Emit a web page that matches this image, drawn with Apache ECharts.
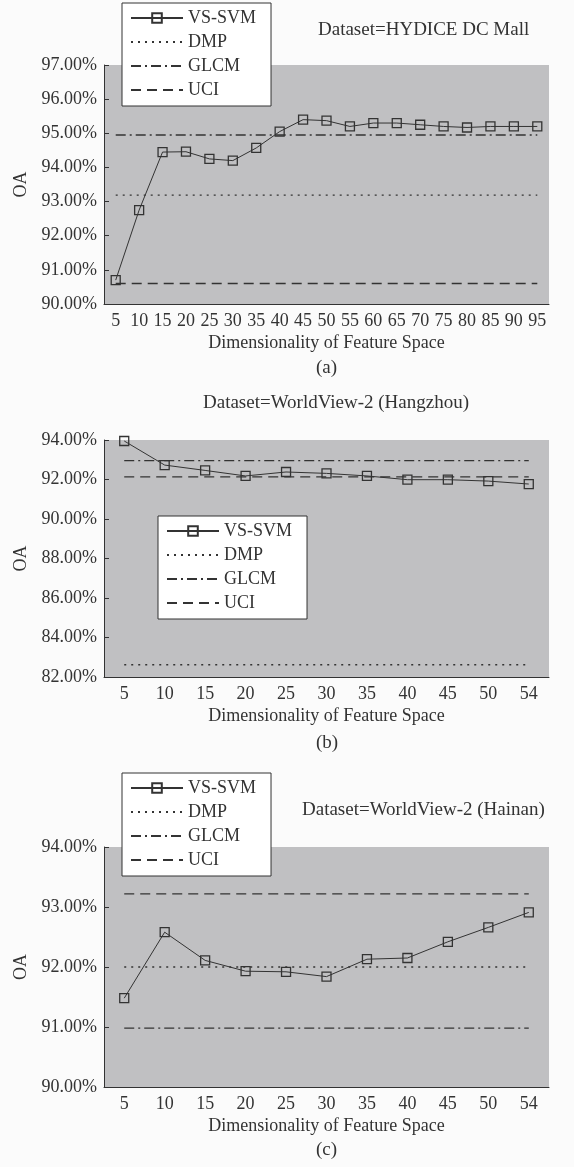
<!DOCTYPE html>
<html><head><meta charset="utf-8">
<script src="https://cdn.jsdelivr.net/npm/echarts@6/dist/echarts.min.js"></script>
<style>html,body{margin:0;padding:0;background:#fbfbfb;}#c{width:574px;height:1167px;}</style>
</head><body><div id="c"></div>
<script>
// ---- Data ----
const categoriesA = ['5','10','15','20','25','30','35','40','45','50','55','60','65','70','75','80','85','90','95'];
const vssvmA = [90.70, 92.75, 94.45, 94.46, 94.25, 94.20, 94.57, 95.05, 95.40, 95.37, 95.20, 95.30, 95.30, 95.25, 95.20, 95.17, 95.20, 95.20, 95.20];
const dmpA = 93.19, glcmA = 94.95, uciA = 90.60;

const categoriesB = ['5','10','15','20','25','30','35','40','45','50','54'];
const vssvmB = [93.95, 92.73, 92.46, 92.18, 92.38, 92.31, 92.18, 91.99, 91.99, 91.92, 91.77];
const dmpB = 82.62, glcmB = 92.96, uciB = 92.13;

const categoriesC = ['5','10','15','20','25','30','35','40','45','50','54'];
const vssvmC = [91.48, 92.58, 92.11, 91.93, 91.92, 91.84, 92.13, 92.15, 92.42, 92.66, 92.91];
const dmpC = 92.00, glcmC = 90.98, uciC = 93.22;

const titles = ['Dataset=HYDICE DC Mall', 'Dataset=WorldView-2 (Hangzhou)', 'Dataset=WorldView-2 (Hainan)'];
const captions = ['(a)', '(b)', '(c)'];
const legendNames = ['VS-SVM', 'DMP', 'GLCM', 'UCI'];
const xName = 'Dimensionality of Feature Space';
const yName = 'OA';

// ---- Styles ----
const FONT = '"Liberation Serif", "DejaVu Serif", serif';
const INK = '#333';
const FS = 18;
const grids = [
  {left:104, top:65, width:445, height:239},
  {left:104, top:440, width:445, height:237},
  {left:104, top:847, width:445, height:240}
];
const yRanges = [[90,97,1],[82,94,2],[90,94,1]];
const cats = [categoriesA, categoriesB, categoriesC];
const vs = [vssvmA, vssvmB, vssvmC];
const refs = [[dmpA, glcmA, uciA],[dmpB, glcmB, uciB],[dmpC, glcmC, uciC]];
const dashes = [[2,5], [10,4,2,4], [10,6]];
const legendPos = [{left:122, top:3},{left:158, top:516},{left:122, top:773}];

const option = {
  animation:false,
  backgroundColor:'#fbfbfb',
  textStyle:{fontFamily:FONT, color:INK},
  grid: grids.map(g => Object.assign({show:true, backgroundColor:'#c0c0c2', borderWidth:0}, g)),
  xAxis: grids.map((g,i) => ({
    type:'category', gridIndex:i, data:cats[i], boundaryGap:true,
    name:xName, nameLocation:'middle', nameGap:30,
    nameTextStyle:{fontFamily:FONT, fontSize:FS, color:INK},
    axisLine:{lineStyle:{color:INK, width:1}},
    axisTick:{inside:true, length:5, alignWithLabel:false, lineStyle:{color:INK}},
    axisLabel:{fontFamily:FONT, fontSize:FS, color:INK, margin:8, interval:0},
    splitLine:{show:false}
  })),
  yAxis: grids.map((g,i) => ({
    type:'value', gridIndex:i, min:yRanges[i][0], max:yRanges[i][1], interval:yRanges[i][2],
    name:yName, nameLocation:'middle', nameGap:70, nameRotate:90,
    nameTextStyle:{fontFamily:FONT, fontSize:FS, color:INK},
    axisLine:{show:true, lineStyle:{color:INK, width:1}},
    axisTick:{show:true, inside:true, length:5, lineStyle:{color:INK}},
    axisLabel:{fontFamily:FONT, fontSize:FS, color:INK, margin:7, formatter:v => v.toFixed(2) + '%'},
    splitLine:{show:false}
  })),
  legend: legendPos.map(p => ({
    left:p.left, top:p.top, orient:'vertical',
    data: legendNames.map((n, k) => k === 0 ? {name:n} : {name:n, itemStyle:{opacity:0}}),
    backgroundColor:'#ffffff', borderColor:INK, borderWidth:1,
    padding:[6,15,7,8], itemGap:6, itemWidth:52, itemHeight:12,
    textStyle:{fontFamily:FONT, fontSize:FS, color:INK},
    selectedMode:false
  })),
  series: [],
  graphic: []
};

for (let i = 0; i < 3; i++) {
  const c = cats[i];
  option.series.push({
    name:'VS-SVM', type:'line', xAxisIndex:i, yAxisIndex:i, data:vs[i],
    symbol:'rect', symbolSize:9, showSymbol:true,
    lineStyle:{color:INK, width:1},
    itemStyle:{color:'rgba(0,0,0,0)', borderColor:INK, borderWidth:1.3}
  });
  ['DMP','GLCM','UCI'].forEach((n, k) => {
    option.series.push({
      name:n, type:'line', xAxisIndex:i, yAxisIndex:i,
      data:[[c[0], refs[i][k]], [c[c.length-1], refs[i][k]]],
      symbol:'none', showSymbol:false,
      lineStyle:{color:INK, width:1.3, type:dashes[k]},
      itemStyle:{color:INK}
    });
  });
}

option.graphic = [
  {type:'text', left:318, top:21, style:{text:titles[0], font:'19px ' + FONT, fill:INK}},
  {type:'text', left:203, top:394, style:{text:titles[1], font:'19px ' + FONT, fill:INK}},
  {type:'text', left:302, top:801, style:{text:titles[2], font:'19px ' + FONT, fill:INK}},
  {type:'text', left:316, top:359, style:{text:captions[0], font:'19px ' + FONT, fill:INK}},
  {type:'text', left:316, top:734, style:{text:captions[1], font:'19px ' + FONT, fill:INK}},
  {type:'text', left:316, top:1141, style:{text:captions[2], font:'19px ' + FONT, fill:INK}}
];

const chart = echarts.init(document.getElementById('c'), null, {renderer:'canvas'});
chart.setOption(option);
</script></body></html>
